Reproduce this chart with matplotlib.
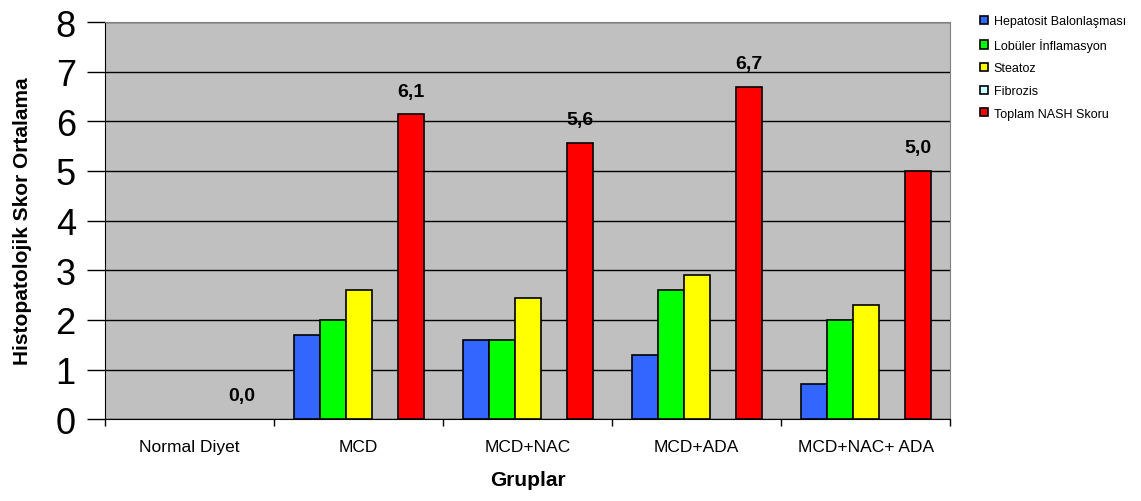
import numpy as np
import matplotlib
matplotlib.use("Agg")
import matplotlib.pyplot as plt
from matplotlib.patches import Patch

plt.rcParams["font.family"] = ["Liberation Sans", "DejaVu Sans"]

groups = ["Normal Diyet", "MCD", "MCD+NAC", "MCD+ADA", "MCD+NAC+ ADA"]
series = ["Hepatosit Balonlaşması", "Lobüler İnflamasyon", "Steatoz", "Fibrozis", "Toplam NASH Skoru"]
hepatosit = [0.0, 1.7, 1.6, 1.3, 0.7]
lobuler = [0.0, 2.0, 1.6, 2.6, 2.0]
steatoz = [0.0, 2.6, 2.45, 2.9, 2.3]
fibrozis = [0.0, 0.0, 0.0, 0.0, 0.0]
toplam = [0.0, 6.14, 5.56, 6.7, 5.0]
colors = ["#3366FF", "#00FF00", "#FFFF00", "#CCFFFF", "#FF0000"]

fig = plt.figure(figsize=(11.41, 5.02), dpi=100)
ax = fig.add_axes([0.092, 0.163, 0.741, 0.791])
ax.set_facecolor("#C0C0C0")

x = np.arange(len(groups))
w = 0.154
data = [hepatosit, lobuler, steatoz, fibrozis, toplam]
for i, (vals, c) in enumerate(zip(data, colors)):
    pos = x - 0.308 + i * w
    lw = [1.2 if v > 0 else 0 for v in vals]
    ax.bar(pos, vals, w, color=c, edgecolor="black", linewidth=lw, zorder=3)
    if i == 4:
        for p, v in zip(pos, vals):
            ax.text(p, v + 0.3, f"{v:.1f}".replace(".", ","), ha="center", va="bottom",
                    fontsize=14, fontweight="bold", zorder=4)

ax.set_xlim(-0.5, len(groups) - 0.5)
ax.set_ylim(0, 8)
ax.set_yticks(range(0, 9))
ax.tick_params(axis="y", labelsize=26, direction="out", length=13, width=1, pad=8)
ax.yaxis.grid(True, color="black", linewidth=1, zorder=0)
ax.set_axisbelow(True)

ax.set_xticks(np.arange(-0.5, len(groups) + 0.5, 1))
ax.set_xticklabels([])
ax.set_xticks(x, minor=True)
ax.set_xticklabels(groups, minor=True, fontsize=12.5)
ax.tick_params(axis="x", which="major", direction="out", length=5, width=1)
ax.tick_params(axis="x", which="minor", length=0, pad=14)

ax.spines["top"].set_color("#808080")
ax.spines["right"].set_color("#808080")
ax.spines["left"].set_color("black")
ax.spines["bottom"].set_color("black")

ax.set_xlabel("Gruplar", fontsize=15, fontweight="bold", labelpad=12)
ax.set_ylabel("Histopatolojik Skor Ortalama", fontsize=15, fontweight="bold", labelpad=17)

handles = [Patch(facecolor=c, edgecolor="black", linewidth=1.2) for c in colors]
fig.legend(handles, series, loc="upper left", bbox_to_anchor=(0.849, 0.99), frameon=False,
           fontsize=9, handlelength=0.65, handleheight=0.65, handletextpad=0.45, labelspacing=0.85)

fig.savefig("out.png", dpi=100)
